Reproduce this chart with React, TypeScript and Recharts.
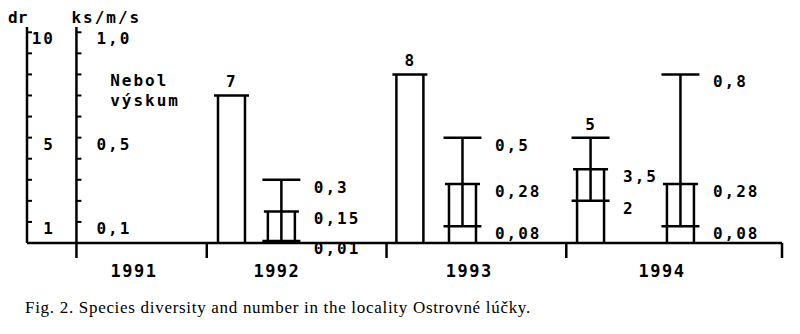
import { ComposedChart, Bar, XAxis, YAxis, ErrorBar, ReferenceLine, ReferenceDot } from 'recharts';

const years = ['1991', '1992', '1993', '1994'];

// dr - druhová diverzita (ľavá os)
const drValue = [null, 7, 8, 3.5];
const drMin = [null, null, null, 2];
const drMax = [null, null, null, 5];

// ks/m/s - početnosť (druhá os)
const ksValue = [null, 0.15, 0.28, 0.28];
const ksMin = [null, 0.01, 0.08, 0.08];
const ksMax = [null, 0.3, 0.5, 0.8];

const drTicks = [1, 2, 3, 4, 5, 6, 7, 8, 9, 10];
const drTickLabels = [1, 5, 10];
const ksTicks = [0.1, 0.2, 0.3, 0.4, 0.5, 0.6, 0.7, 0.8, 0.9, 1.0];
const ksTickLabels = [0.1, 0.5, 1.0];

// rozloženie na osi x (v "slotoch")
const drX = [null, 4.56, 8.53, 12.55];
const ksX = [null, 5.67, 9.7, 14.55];
const yearX = [2.38, 5.56, 9.84, 14.13];
const sepX = [1.1, 4, 8, 12, 16.8];
const ksAxisX = 1.1;

const ink = '#000';
const mono = '"DejaVu Sans Mono", "Liberation Mono", monospace';
const fmt = (v: number) => String(v).replace('.', ',');

const rows: any[] = [];
years.forEach((year, i) => {
  if (drValue[i] != null) rows.push({ x: drX[i], year, dr: drValue[i], drMin: drMin[i], drMax: drMax[i] });
  if (ksValue[i] != null) rows.push({ x: ksX[i], year, ks: ksValue[i], ksMin: ksMin[i], ksMax: ksMax[i] });
});
rows.sort((a, b) => a.x - b.x);

type Tag = { x: number; y: number; text: string; axis: 'dr' | 'ks'; side: 'top' | 'right' };
const tags: Tag[] = [];
years.forEach((_, i) => {
  const dv = drValue[i];
  if (dv != null) {
    const lo = drMin[i];
    const hi = drMax[i];
    if (lo != null && hi != null) {
      tags.push({ x: drX[i]!, y: hi, text: fmt(hi), axis: 'dr', side: 'top' });
      tags.push({ x: drX[i]!, y: dv, text: fmt(dv), axis: 'dr', side: 'right' });
      tags.push({ x: drX[i]!, y: lo, text: fmt(lo), axis: 'dr', side: 'right' });
    } else {
      tags.push({ x: drX[i]!, y: dv, text: fmt(dv), axis: 'dr', side: 'top' });
    }
  }
  const kv = ksValue[i];
  if (kv != null) {
    tags.push({ x: ksX[i]!, y: ksMax[i]!, text: fmt(ksMax[i]!), axis: 'ks', side: 'right' });
    tags.push({ x: ksX[i]!, y: kv, text: fmt(kv), axis: 'ks', side: 'right' });
    tags.push({ x: ksX[i]!, y: ksMin[i]!, text: fmt(ksMin[i]!), axis: 'ks', side: 'right' });
  }
});

const textStyle = { fontFamily: mono, fontSize: 16, fontWeight: 700, letterSpacing: 2, fill: ink } as const;

function BoxShape(props: any) {
  const { x, y, width, height } = props;
  if (!(height > 0)) return null;
  return (
    <g stroke={ink} strokeWidth={2.5} fill="none">
      <line x1={x} y1={y} x2={x} y2={y + height} />
      <line x1={x + width} y1={y} x2={x + width} y2={y + height} />
      <line x1={x - 4} y1={y} x2={x + width + 4} y2={y} />
    </g>
  );
}

function DrTick(props: any) {
  const { x, y, payload } = props;
  const v = payload.value;
  return (
    <g>
      <line x1={x} y1={y} x2={x + 5} y2={y} stroke={ink} strokeWidth={2} />
      {drTickLabels.includes(v) && (
        <text x={x + 28} y={y + 12} textAnchor="end" {...textStyle}>{v}</text>
      )}
    </g>
  );
}

function YearTick(props: any) {
  const { x, y, payload } = props;
  const v = payload.value;
  if (sepX.includes(v)) {
    return <line x1={x} y1={y} x2={x} y2={y + 15} stroke={ink} strokeWidth={2.5} />;
  }
  const idx = yearX.indexOf(v);
  if (idx < 0) return null;
  return (
    <text x={x} y={y + 34} textAnchor="middle" {...textStyle} fontSize={17} letterSpacing={1.5}>
      {years[idx]}
    </text>
  );
}

const errDr = (d: any) => (d.drMin == null ? null : [d.dr - d.drMin, d.drMax - d.dr]);
const errKs = (d: any) => (d.ksMin == null ? null : [d.ks - d.ksMin, d.ksMax - d.ks]);

export default function App() {
  return (
    <div style={{ position: 'absolute', left: 0, top: 0, width: 800, height: 334, background: '#fff' }}>
      <ComposedChart width={800} height={334} data={rows} margin={{ top: 27, right: 18, left: 0, bottom: 51 }}>
        <XAxis
          xAxisId="a"
          dataKey="x"
          type="number"
          domain={[0, 16.8]}
          ticks={[...sepX, ...yearX].sort((a, b) => a - b)}
          interval={0}
          height={40}
          tickSize={0}
          tickMargin={0}
          tickLine={false}
          axisLine={{ stroke: ink, strokeWidth: 2.5 }}
          tick={<YearTick />}
        />
        <XAxis xAxisId="b" dataKey="x" type="number" domain={[0, 16.8]} hide />
        <YAxis
          yAxisId="dr"
          type="number"
          domain={[0, 10.25]}
          ticks={drTicks}
          interval={0}
          width={27}
          tickSize={0}
          tickMargin={0}
          tickLine={false}
          axisLine={{ stroke: ink, strokeWidth: 2.5 }}
          tick={<DrTick />}
        />
        <YAxis yAxisId="ks" type="number" domain={[0, 1.025]} hide />

        <ReferenceLine xAxisId="a" yAxisId="dr" x={ksAxisX} stroke={ink} strokeWidth={2.5} />
        {ksTicks.map((v) => (
          <ReferenceDot
            key={'kt' + v}
            xAxisId="a"
            yAxisId="ks"
            x={ksAxisX}
            y={v}
            ifOverflow="visible"
            shape={(p: any) => (
              <g>
                <line x1={p.cx} y1={p.cy} x2={p.cx + 5} y2={p.cy} stroke={ink} strokeWidth={2} />
                {ksTickLabels.includes(v) && (
                  <text x={p.cx + 20} y={p.cy + 12} {...textStyle}>{v.toFixed(1).replace('.', ',')}</text>
                )}
              </g>
            )}
          />
        ))}

        <ReferenceDot
          xAxisId="a"
          yAxisId="dr"
          x={0}
          y={10.25}
          ifOverflow="visible"
          shape={(p: any) => (
            <text x={p.cx - 19} y={p.cy - 4} {...textStyle} letterSpacing={0}>dr</text>
          )}
        />
        <ReferenceDot
          xAxisId="a"
          yAxisId="dr"
          x={ksAxisX}
          y={10.25}
          ifOverflow="visible"
          shape={(p: any) => (
            <text x={p.cx - 5} y={p.cy - 4} {...textStyle}>ks/m/s</text>
          )}
        />
        <ReferenceDot
          xAxisId="a"
          yAxisId="dr"
          x={1.85}
          y={7.75}
          ifOverflow="visible"
          shape={(p: any) => (
            <text {...textStyle}>
              <tspan x={p.cx} y={p.cy + 6}>Nebol</tspan>
              <tspan x={p.cx} y={p.cy + 26}>výskum</tspan>
            </text>
          )}
        />

        <Bar xAxisId="a" yAxisId="dr" dataKey="dr" barSize={27} shape={<BoxShape />} isAnimationActive={false}>
          <ErrorBar dataKey={errDr} direction="y" width={19} stroke={ink} strokeWidth={2.5} />
        </Bar>
        <Bar xAxisId="b" yAxisId="ks" dataKey="ks" barSize={27} shape={<BoxShape />} isAnimationActive={false}>
          <ErrorBar dataKey={errKs} direction="y" width={19} stroke={ink} strokeWidth={2.5} />
        </Bar>

        {tags.map((t, i) => (
          <ReferenceDot
            key={'tag' + i}
            xAxisId={t.axis === 'dr' ? 'a' : 'b'}
            yAxisId={t.axis}
            x={t.x}
            y={t.y}
            ifOverflow="visible"
            shape={(p: any) =>
              t.side === 'top' ? (
                <text x={p.cx} y={p.cy - 8} textAnchor="middle" {...textStyle}>{t.text}</text>
              ) : (
                <text x={p.cx + 32} y={p.cy + 13} {...textStyle}>{t.text}</text>
              )
            }
          />
        ))}
      </ComposedChart>
      <div
        style={{
          position: 'absolute',
          left: 25,
          top: 298,
          fontFamily: '"Liberation Serif", "Times New Roman", serif',
          fontSize: 17,
          letterSpacing: 0.7,
          color: ink,
          whiteSpace: 'nowrap',
        }}
      >
        Fig. 2. Species diversity and number in the locality Ostrovné lúčky.
      </div>
    </div>
  );
}
